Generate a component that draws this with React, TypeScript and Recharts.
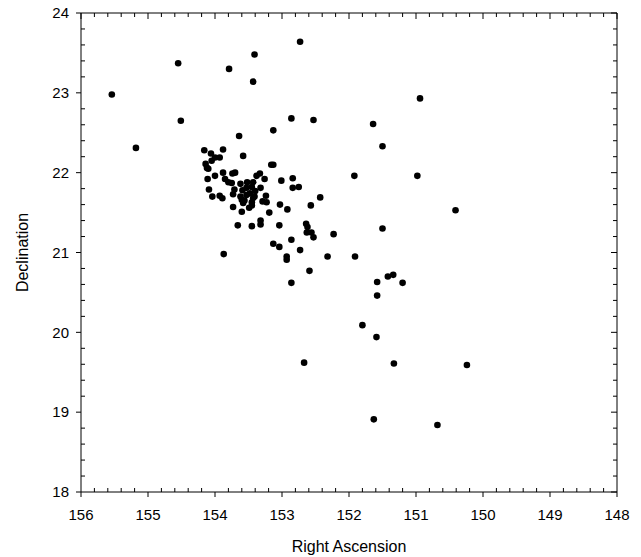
import { ScatterChart, Scatter, XAxis, YAxis, ReferenceLine } from "recharts";

// positions (degrees)
const rightAscension = [
  155.54, 154.55, 154.51, 153.79, 153.41, 153.43, 152.73, 152.86, 152.53, 153.64,
  153.13, 155.18, 150.94, 151.64, 151.5, 151.92, 150.98, 150.41, 152.43, 152.57,
  152.64, 152.62, 152.63, 152.56, 152.53, 152.23, 151.5, 152.73, 152.32, 151.91,
  152.59, 151.58, 151.42, 151.34, 151.2, 151.58, 151.8, 151.59, 152.67, 151.33,
  150.24, 151.63, 150.68,
  154.16, 153.88, 154.06, 153.58, 154.05, 154.0, 153.93, 154.14, 154.12, 154.1,
  153.16, 153.13, 153.88, 153.74, 153.7, 154.11, 154.0, 153.85, 153.38, 153.33,
  153.26, 153.01, 152.84, 153.8, 153.75, 153.62, 153.52, 153.43, 154.09, 153.71,
  153.73, 153.59, 153.53, 153.45, 153.4, 153.32, 152.84, 152.75, 154.04, 153.93,
  153.89, 153.62, 153.6, 153.53, 153.48, 153.41, 153.43, 153.24, 153.58, 153.56,
  153.45, 153.45, 153.29, 153.23, 153.73, 153.6, 153.49, 153.03, 152.92, 153.19,
  153.66, 153.45, 153.32, 153.32, 153.04, 152.86, 153.13, 153.04, 153.87, 152.93,
  152.93, 152.86,
];

const declination = [
  22.98, 23.37, 22.65, 23.3, 23.48, 23.14, 23.64, 22.68, 22.66, 22.46,
  22.53, 22.31, 22.93, 22.61, 22.33, 21.96, 21.96, 21.53, 21.69, 21.59,
  21.36, 21.32, 21.25, 21.25, 21.19, 21.23, 21.3, 21.03, 20.95, 20.95,
  20.77, 20.63, 20.7, 20.72, 20.62, 20.46, 20.09, 19.94, 19.62, 19.61,
  19.59, 18.91, 18.84,
  22.28, 22.29, 22.24, 22.21, 22.15, 22.19, 22.19, 22.11, 22.06, 22.05,
  22.1, 22.1, 22.0, 21.99, 22.0, 21.92, 21.96, 21.92, 21.96, 21.99,
  21.92, 21.9, 21.93, 21.88, 21.87, 21.86, 21.88, 21.88, 21.79, 21.79,
  21.73, 21.78, 21.81, 21.82, 21.77, 21.81, 21.81, 21.82, 21.7, 21.71,
  21.68, 21.7, 21.66, 21.72, 21.74, 21.7, 21.68, 21.71, 21.62, 21.65,
  21.63, 21.59, 21.64, 21.63, 21.57, 21.51, 21.56, 21.6, 21.54, 21.5,
  21.34, 21.33, 21.4, 21.35, 21.34, 21.16, 21.11, 21.07, 20.98, 20.95,
  20.91, 20.62,
];

const raMajorTicks = [156, 155, 154, 153, 152, 151, 150, 149, 148];
const decMajorTicks = [18, 19, 20, 21, 22, 23, 24];

const points = rightAscension.map((ra, i) => ({ ra, dec: declination[i] }));

const isMajor = (v: number) => Math.abs(v - Math.round(v)) < 1e-6;

// 0.2 steps across the range
function stepsOf(majors: number[]) {
  const lo = Math.min(...majors);
  const hi = Math.max(...majors);
  const n = Math.round((hi - lo) / 0.2);
  const out: number[] = [];
  for (let i = 0; i <= n; i++) out.push(Math.round((lo + i * 0.2) * 10) / 10);
  return out;
}

const raAllTicks = stepsOf(raMajorTicks);
const decAllTicks = stepsOf(decMajorTicks);
const raMinorTicks = raAllTicks.filter((v) => !isMajor(v));
const decMinorTicks = decAllTicks.filter((v) => !isMajor(v));

const INK = "#000";
const RA_MIN = 148;
const RA_MAX = 156;
const DEC_MIN = 18;
const DEC_MAX = 24;

// inward tick lengths in axis units (~4px minor, ~6px major)
const RA_PER_PX = (RA_MAX - RA_MIN) / 536;
const DEC_PER_PX = (DEC_MAX - DEC_MIN) / 479;

type Seg = { key: string; a: { x: number; y: number }; b: { x: number; y: number } };
const frameTicks: Seg[] = [
  // bottom minors, pointing up
  ...raMinorTicks.map((v) => ({
    key: `b${v}`,
    a: { x: v, y: DEC_MIN },
    b: { x: v, y: DEC_MIN + 4 * DEC_PER_PX },
  })),
  // top, pointing down
  ...raAllTicks.map((v) => ({
    key: `t${v}`,
    a: { x: v, y: DEC_MAX },
    b: { x: v, y: DEC_MAX - (isMajor(v) ? 6 : 4) * DEC_PER_PX },
  })),
  // left minors, pointing right (x axis reversed)
  ...decMinorTicks.map((v) => ({
    key: `l${v}`,
    a: { x: RA_MAX, y: v },
    b: { x: RA_MAX - 4 * RA_PER_PX, y: v },
  })),
  // right, pointing left
  ...decAllTicks.map((v) => ({
    key: `r${v}`,
    a: { x: RA_MIN, y: v },
    b: { x: RA_MIN + (isMajor(v) ? 6 : 4) * RA_PER_PX, y: v },
  })),
];

export default function App() {
  return (
    <div
      style={{
        position: "absolute",
        left: 0,
        top: 0,
        width: 641,
        height: 557,
        background: "#fff",
        fontFamily: "'Liberation Sans', Arial, sans-serif",
      }}
    >
      <ScatterChart width={641} height={557} margin={{ top: 13, right: 24, left: 0, bottom: 0 }}>
        <XAxis
          xAxisId="b"
          dataKey="ra"
          type="number"
          domain={[RA_MIN, RA_MAX]}
          allowDataOverflow
          reversed
          ticks={raMajorTicks}
          interval={0}
          tickSize={5}
          tickMargin={12}
          tickLine={{ stroke: INK }}
          axisLine={{ stroke: INK }}
          tick={{ fill: INK, fontSize: 15 }}
          height={65}
          label={({ viewBox }: any) => (
            <text
              x={viewBox.x + viewBox.width / 2}
              y={viewBox.y + 60}
              textAnchor="middle"
              fontSize={16}
              fill={INK}
            >
              Right Ascension
            </text>
          )}
        />
        <YAxis
          yAxisId="l"
          dataKey="dec"
          type="number"
          domain={[DEC_MIN, DEC_MAX]}
          allowDataOverflow
          ticks={decMajorTicks}
          interval={0}
          tickSize={5}
          tickMargin={7}
          tickLine={{ stroke: INK }}
          axisLine={{ stroke: INK }}
          tick={{ fill: INK, fontSize: 15 }}
          width={81}
          label={({ viewBox }: any) => {
            const cx = viewBox.x + 22;
            const cy = viewBox.y + viewBox.height / 2;
            return (
              <text
                x={cx}
                y={cy}
                transform={`rotate(-90 ${cx} ${cy})`}
                textAnchor="middle"
                dominantBaseline="central"
                fontSize={16}
                fill={INK}
              >
                Declination
              </text>
            );
          }}
        />
        {/* frame top and right */}
        <ReferenceLine xAxisId="b" yAxisId="l" y={DEC_MAX} stroke={INK} ifOverflow="visible" />
        <ReferenceLine xAxisId="b" yAxisId="l" x={RA_MIN} stroke={INK} ifOverflow="visible" />
        {frameTicks.map((s) => (
          <ReferenceLine
            key={s.key}
            xAxisId="b"
            yAxisId="l"
            segment={[s.a, s.b]}
            stroke={INK}
            ifOverflow="visible"
          />
        ))}
        <Scatter
          xAxisId="b"
          yAxisId="l"
          data={points}
          isAnimationActive={false}
          shape={(p: any) => <circle cx={p.cx} cy={p.cy} r={3.3} fill={INK} />}
        />
      </ScatterChart>
    </div>
  );
}
